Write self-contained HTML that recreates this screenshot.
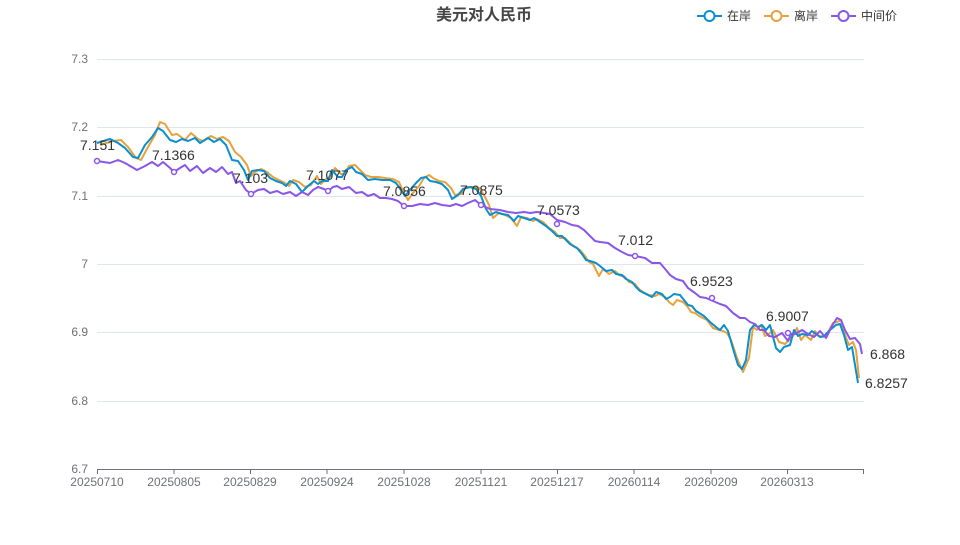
<!DOCTYPE html><html><head><meta charset="utf-8"><style>
body{margin:0;background:#fff;font-family:"Liberation Sans","Noto Sans CJK SC",sans-serif}
</style></head><body>
<svg width="960" height="540" xmlns="http://www.w3.org/2000/svg" font-family="Liberation Sans, Noto Sans CJK SC, sans-serif">
<text x="484" y="20" font-size="16" font-weight="bold" fill="#464646" text-anchor="middle">美元对人民币</text>
<g font-size="12" fill="#333">
<line x1="697" y1="16" x2="722" y2="16" stroke="#0a8fce" stroke-width="2"/><circle cx="709.5" cy="16" r="5" fill="#fff" stroke="#0a8fce" stroke-width="2"/><text x="727" y="20">在岸</text>
<line x1="764" y1="16" x2="789" y2="16" stroke="#e6a23c" stroke-width="2"/><circle cx="776.5" cy="16" r="5" fill="#fff" stroke="#e6a23c" stroke-width="2"/><text x="794" y="20">离岸</text>
<line x1="831" y1="16" x2="856" y2="16" stroke="#8a56e8" stroke-width="2"/><circle cx="843.5" cy="16" r="5" fill="#fff" stroke="#8a56e8" stroke-width="2"/><text x="861" y="20">中间价</text>
</g>
<g stroke="#e0e6f1" stroke-width="1">
<line x1="97" y1="59.5" x2="864" y2="59.5"/><line x1="97" y1="127.5" x2="864" y2="127.5"/><line x1="97" y1="196.5" x2="864" y2="196.5"/><line x1="97" y1="264.5" x2="864" y2="264.5"/><line x1="97" y1="332.5" x2="864" y2="332.5"/><line x1="97" y1="401.5" x2="864" y2="401.5"/>
</g>
<line x1="97" y1="469.5" x2="864" y2="469.5" stroke="#6e7079"/>
<g stroke="#6e7079"><line x1="97.5" y1="469" x2="97.5" y2="474"/><line x1="174" y1="469" x2="174" y2="474"/><line x1="250.5" y1="469" x2="250.5" y2="474"/><line x1="327" y1="469" x2="327" y2="474"/><line x1="404" y1="469" x2="404" y2="474"/><line x1="481" y1="469" x2="481" y2="474"/><line x1="557.5" y1="469" x2="557.5" y2="474"/><line x1="634" y1="469" x2="634" y2="474"/><line x1="711" y1="469" x2="711" y2="474"/><line x1="787.5" y1="469" x2="787.5" y2="474"/><line x1="863.5" y1="469" x2="863.5" y2="474"/></g>
<g font-size="12" fill="#6e7079" text-anchor="end">
<text x="88" y="63">7.3</text><text x="88" y="131">7.2</text><text x="88" y="200">7.1</text><text x="88" y="268">7</text><text x="88" y="336">6.9</text><text x="88" y="405">6.8</text><text x="88" y="473">6.7</text>
</g>
<g font-size="12" fill="#6e7079" text-anchor="middle">
<text x="97" y="486">20250710</text><text x="174" y="486">20250805</text><text x="250" y="486">20250829</text><text x="327" y="486">20250924</text><text x="404" y="486">20251028</text><text x="481" y="486">20251121</text><text x="557" y="486">20251217</text><text x="634" y="486">20260114</text><text x="711" y="486">20260209</text><text x="787" y="486">20260313</text>
</g>
<g fill="none" stroke-width="2" stroke-linejoin="round">
<polyline stroke="#e6a23c" points="100,145 113,141 121,140 128,147 136,158 141,160 148,147 155,135 160,122 165,124 172,135 177,134 185,140 191,133 198,139 203,141 211,136 217,139 223,137 229,141 235,152 241,157 247,165 251,176 255,172 261,169 267,172 273,177 279,180 285,183 289,186 293,180 299,182 305,187 311,185 317,176 321,184 325,180 331,176 335,168 341,174 345,174 349,166 355,165 359,169 365,175 371,177 378,177 385,178 393,179 399,182 404,193 408,200 413,193 419,186 424,178 429,175 433,178 439,181 445,182 451,188 455,195 461,194 466,187 473,187 479,188 484,195 489,205 493,218 499,213 505,215 511,218 517,226 521,217 527,218 533,221 537,219 543,222 549,228 555,232 560,238 565,238 573,246 580,250 585,256 589,262 593,264 599,276 603,269 609,274 615,271 619,275 625,277 629,282 635,284 639,289 643,292 649,295 655,296 659,294 665,297 669,302 673,305 677,300 683,302 687,306 691,312 695,313 699,316 707,320 713,328 719,330 723,331 727,333 731,340 737,358 743,372 749,358 753,327 757,330 761,325 765,336 769,334 773,330 779,342 785,344 789,340 793,336 797,328 801,340 805,335 811,340 815,331 819,336 823,337 827,334 833,323 837,322 841,320 845,335 849,345 853,342 856,350 859,378"/>
<polyline stroke="#0a8fce" points="97,143 110,139 118,143 125,148 133,157 138,158 145,145 152,137 158,128 163,131 170,140 176,142 182,139 188,141 195,138 200,143 208,138 214,142 220,139 226,145 232,160 238,161 244,170 248,180 252,171 258,170 264,171 270,178 276,181 282,183 286,186 290,181 296,184 302,192 308,186 314,181 318,184 322,181 328,181 332,170 338,177 342,177 346,170 352,167 356,172 362,174 368,180 375,179 382,180 390,180 396,183 401,190 405,196 410,190 416,183 421,178 426,177 430,181 436,182 442,184 448,190 452,199 458,195 463,189 470,187 476,189 481,196 486,209 490,215 496,212 502,214 508,215 514,221 518,216 524,218 530,220 534,218 540,222 546,226 552,231 557,236 562,236 570,244 577,248 582,254 586,260 590,261 596,263 600,266 606,271 612,270 616,274 622,275 626,279 632,282 636,287 640,291 646,294 652,297 656,292 662,294 666,299 670,297 674,294 680,295 684,300 688,305 692,306 696,311 704,316 710,322 716,327 720,330 724,325 728,331 734,352 738,365 742,369 746,360 750,330 754,325 758,327 762,325 766,330 770,325 776,348 780,352 784,347 790,345 794,330 798,336 802,334 808,335 812,331 816,334 820,337 824,336 830,330 836,325 840,324 844,335 848,350 852,347 858,383"/>
<polyline stroke="#8a56e8" points="97,161 110,163 118,160 125,163 137,170 145,166 152,162 158,166 163,162 170,168 174,172 180,168 185,165 190,171 197,166 203,173 210,168 216,172 222,167 228,174 232,172 236,183 240,181 246,190 251,194 258,190 264,189 270,193 277,191 283,194 290,192 296,196 302,192 308,195 313,190 318,187 324,189 328,191 333,187 337,186 342,189 349,187 356,193 362,192 368,196 374,194 380,198 386,198 392,199 398,201 404,206 412,206 420,204 428,205 435,203 442,205 450,206 456,204 462,206 468,203 475,200 481,205 490,209 500,210 508,212 516,213 524,212 530,213 537,212 544,213 550,214 557,220 565,222 572,225 578,226 584,230 590,236 595,241 600,242 608,243 615,248 622,252 628,255 635,256 645,258 652,263 660,263 666,270 670,275 676,279 683,281 688,288 695,293 700,297 706,298 713,301 720,304 726,306 733,313 740,318 745,318 750,322 755,324 760,330 764,330 769,336 775,337 782,333 788,341 791,334 795,334 802,330 808,334 814,337 820,331 826,338 832,326 837,318 841,320 845,330 850,339 855,338 860,344 862,354"/>
</g>
<g fill="#fff" stroke="#8a56e8" stroke-width="1.5">
<circle cx="97" cy="161" r="2.5"/><circle cx="174" cy="172" r="2.5"/><circle cx="251" cy="194" r="2.5"/><circle cx="328" cy="191" r="2.5"/><circle cx="404" cy="206" r="2.5"/><circle cx="481" cy="205" r="2.5"/><circle cx="557" cy="224" r="2.5"/><circle cx="635" cy="256" r="2.5"/><circle cx="712" cy="298" r="2.5"/><circle cx="788" cy="333" r="2.5"/>
</g>
<g font-size="14" fill="#333">
<text x="80" y="150">7.151</text><text x="152" y="160">7.1366</text><text x="233" y="183">7.103</text><text x="306" y="180">7.1077</text><text x="383" y="196">7.0856</text><text x="460" y="195">7.0875</text><text x="537" y="215">7.0573</text><text x="618" y="245">7.012</text><text x="690" y="286">6.9523</text><text x="766" y="321">6.9007</text><text x="870" y="359">6.868</text><text x="865" y="388">6.8257</text>
</g>
</svg>
</body></html>
